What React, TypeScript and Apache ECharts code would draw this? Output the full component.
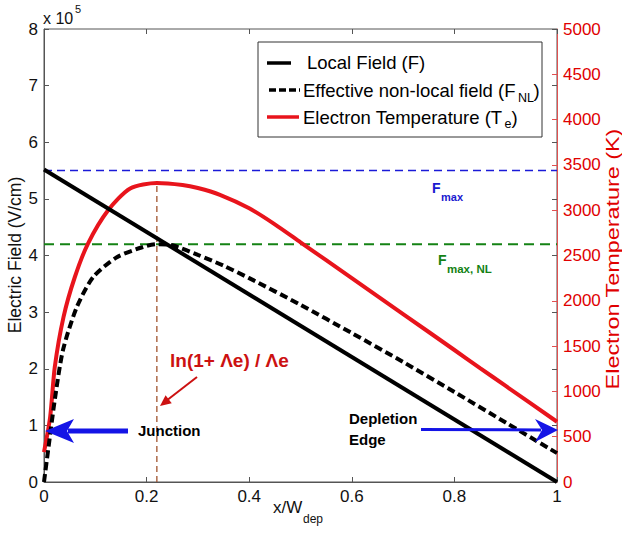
import React, { useEffect, useRef } from "react";
import * as echarts from "echarts";

// ---- data ----
const xTicks = [0, 0.2, 0.4, 0.6, 0.8, 1];
const localFieldX = [0, 1];
const localField = [5.52, 0]; // x 10^5 V/cm

const nonLocalX = [0, 0.008, 0.021, 0.037, 0.064, 0.096, 0.142, 0.193, 0.22, 0.25, 0.3, 0.35, 0.4, 0.5, 0.6, 0.7, 0.8, 0.9, 1.0];
const nonLocalField = [0, 0.56, 1.45, 2.33, 3.09, 3.62, 3.97, 4.15, 4.2, 4.18, 4.01, 3.82, 3.6, 3.13, 2.63, 2.12, 1.59, 1.05, 0.51];

const tempX = [0, 0.012, 0.021, 0.038, 0.06, 0.086, 0.125, 0.168, 0.22, 0.27, 0.3, 0.343, 0.4, 0.45, 0.5, 0.6, 0.7, 0.8, 0.85, 0.9, 1.0];
const electronTemp = [330, 718, 1268, 1820, 2260, 2635, 3000, 3240, 3300, 3278, 3245, 3170, 3021, 2844, 2646, 2250, 1854, 1457, 1258, 1060, 665];

const fMax = 5.5;
const fMaxNL = 4.2;
const junctionX = 0.22;
const peakTemp = 3300;

const FF = 'Arial, "Liberation Sans", Helvetica, sans-serif';

const zip = (xs: number[], ys: number[]) => xs.map((x, i) => [x, ys[i]]);

function txt(x: number, y: number, text: string, size: number, fill: string, extra: any = {}) {
  const { bold, align, rotation, scaleX, scaleY } = extra;
  return {
    type: "text",
    x,
    y,
    rotation: rotation || 0,
    scaleX: scaleX || 1,
    scaleY: scaleY || 1,
    z: 100,
    silent: true,
    style: {
      text,
      fill,
      font: `${bold ? "bold " : ""}${size}px ${FF}`,
      textAlign: align || "left",
      align: align || "left",
      textVerticalAlign: "middle",
      verticalAlign: "middle",
    },
  };
}

function line(x1: number, y1: number, x2: number, y2: number, stroke: string, lineWidth: number, lineDash?: number[]) {
  return {
    type: "line",
    z: 100,
    silent: true,
    shape: { x1, y1, x2, y2 },
    style: { stroke, lineWidth, lineDash: lineDash || null },
  };
}

function poly(points: number[][], fill: string) {
  return { type: "polygon", z: 100, silent: true, shape: { points }, style: { fill } };
}

function arrowHead(tx: number, ty: number, fx: number, fy: number, len: number, half: number) {
  const dx = tx - fx;
  const dy = ty - fy;
  const d = Math.sqrt(dx * dx + dy * dy);
  const ux = dx / d;
  const uy = dy / d;
  const bx = tx - ux * len;
  const by = ty - uy * len;
  return [
    [tx, ty],
    [bx - uy * half, by + ux * half],
    [bx + uy * half, by - ux * half],
  ];
}

export default function App() {
  const ref = useRef<HTMLDivElement>(null);

  useEffect(() => {
    if (!ref.current) return;
    const chart = echarts.init(ref.current, null, { renderer: "svg" });
    const blue = "#1414e6";
    const red = "#e8141c";
    const annRed = "#cc1111";
    const axisGray = "#555";

    const option: any = {
      animation: false,
      backgroundColor: "#fff",
      textStyle: { fontFamily: FF },
      grid: { left: 44, right: 65, top: 29, bottom: 57, show: true, borderColor: axisGray, borderWidth: 1 },
      xAxis: [
        {
          type: "value",
          min: 0,
          max: 1,
          interval: 0.2,
          axisLine: { show: true, onZero: false, lineStyle: { color: axisGray } },
          axisTick: { show: true, inside: true, length: 5, lineStyle: { color: axisGray } },
          splitLine: { show: false },
          axisLabel: {
            color: "#111",
            fontSize: 17,
            fontFamily: FF,
            margin: 6,
            formatter: (v: number) => {
              const t = xTicks.find((k) => Math.abs(k - v) < 1e-6);
              return t === undefined ? "" : String(t);
            },
          },
        },
        {
          type: "value",
          position: "top",
          min: 0,
          max: 1,
          interval: 0.2,
          axisLine: { show: false, onZero: false },
          axisTick: { show: true, inside: true, length: 5, lineStyle: { color: axisGray } },
          axisLabel: { show: false },
          splitLine: { show: false },
        },
      ],
      yAxis: [
        {
          type: "value",
          min: 0,
          max: 8,
          interval: 1,
          position: "left",
          axisLine: { show: true, onZero: false, lineStyle: { color: axisGray } },
          axisTick: { show: true, inside: true, length: 5, lineStyle: { color: axisGray } },
          axisLabel: { color: "#111", fontSize: 17, fontFamily: FF, margin: 6 },
          splitLine: { show: false },
        },
        {
          type: "value",
          min: 0,
          max: 5000,
          interval: 500,
          position: "right",
          axisLine: { show: true, onZero: false, lineStyle: { color: "#e05050" } },
          axisTick: { show: true, inside: true, length: 5, lineStyle: { color: "#e05050" } },
          axisLabel: {
            color: "#e00000",
            fontSize: 17,
            fontFamily: FF,
            margin: 6,
            formatter: (v: number) => String(v),
          },
          splitLine: { show: false },
        },
        {
          type: "value",
          min: 0,
          max: 8,
          interval: 1,
          position: "right",
          axisLine: { show: false, onZero: false },
          axisTick: { show: true, inside: true, length: 5, lineStyle: { color: axisGray } },
          axisLabel: { show: false },
          splitLine: { show: false },
        },
      ],
      series: [
        {
          name: "Fmax",
          type: "line",
          yAxisIndex: 0,
          symbol: "none",
          silent: true,
          data: [[0, fMax], [1, fMax]],
          lineStyle: { color: "#1a1ad8", width: 1.5, type: [8, 5] },
        },
        {
          name: "FmaxNL",
          type: "line",
          yAxisIndex: 0,
          symbol: "none",
          silent: true,
          data: [[0, fMaxNL], [1, fMaxNL]],
          lineStyle: { color: "#148214", width: 2, type: [10, 6] },
        },
        {
          name: "junction",
          type: "line",
          yAxisIndex: 1,
          symbol: "none",
          silent: true,
          data: [[junctionX, 0], [junctionX, peakTemp]],
          lineStyle: { color: "#a0522d", width: 1.3, type: [6, 4] },
        },
        {
          name: "Electron Temperature",
          type: "line",
          yAxisIndex: 1,
          symbol: "none",
          silent: true,
          smooth: 0.25,
          data: zip(tempX, electronTemp),
          lineStyle: { color: red, width: 4 },
        },
        {
          name: "Effective non-local field",
          type: "line",
          yAxisIndex: 0,
          symbol: "none",
          silent: true,
          smooth: 0.25,
          data: zip(nonLocalX, nonLocalField),
          lineStyle: { color: "#000", width: 4, type: [8, 4], cap: "butt" },
        },
        {
          name: "Local Field",
          type: "line",
          yAxisIndex: 0,
          symbol: "none",
          silent: true,
          data: zip(localFieldX, localField),
          lineStyle: { color: "#000", width: 4 },
        },
      ],
      graphic: [
        // multiplier
        txt(43, 18, "x 10", 16, "#111"),
        txt(75, 9, "5", 11, "#111"),
        // axis titles
        txt(14.5, 255, "Electric Field (V/cm)", 17.5, "#111", { align: "center", rotation: Math.PI / 2 }),
        txt(613, 259, "Electron Temperature (K)", 18, "#e00000", { align: "center", rotation: Math.PI / 2, scaleX: 1.3 }),
        txt(273, 507, "x/W", 17, "#111"),
        txt(303, 519, "dep", 12, "#111"),
        // legend
        {
          type: "rect",
          z: 99,
          silent: true,
          shape: { x: 258, y: 42, width: 284, height: 95 },
          style: { fill: "#fff", stroke: "#333", lineWidth: 1 },
        },
        line(267, 63, 291, 63, "#000", 3.5),
        line(269, 90, 300, 90, "#000", 3.5, [7, 3]),
        line(267, 117, 299, 117, red, 3.5),
        txt(307, 62, "Local Field (F)", 18.5, "#000"),
        txt(303, 90.5, "Effective non-local field (F", 18.5, "#000"),
        txt(518, 98, "NL", 12.5, "#000"),
        txt(533.5, 90.5, ")", 18.5, "#000"),
        txt(303, 117, "Electron Temperature (T", 18.5, "#000"),
        txt(504.5, 124, "e", 12.5, "#000"),
        txt(511.5, 117, ")", 18.5, "#000"),
        // Fmax labels
        txt(432, 188, "F", 14, "#1a1ad0", { bold: true }),
        txt(441, 197, "max", 11, "#1a1ad0", { bold: true }),
        txt(438, 260, "F", 14, "#148214", { bold: true }),
        txt(447, 268.5, "max, NL", 11.5, "#148214", { bold: true }),
        // ln annotation
        txt(170, 360, "ln(1+ Λe) / Λe", 19, annRed, { bold: true }),
        line(197, 377, 166, 401, annRed, 2),
        poly(arrowHead(160, 406, 197, 377, 11, 5), annRed),
        // junction
        txt(138, 430, "Junction", 15, "#000", { bold: true }),
        line(128, 431, 68, 431, blue, 5),
        poly([[45, 431], [74, 419], [67, 431], [74, 443]], blue),
        // depletion edge
        txt(349, 418, "Depletion", 15, "#000", { bold: true }),
        txt(349, 439, "Edge", 15, "#000", { bold: true }),
        line(421, 429.5, 541, 430, blue, 3),
        poly([[558, 430], [535, 419], [542, 430], [535, 442]], blue),
      ],
    };

    chart.setOption(option);
    return () => chart.dispose();
  }, []);

  return (
    <div
      ref={ref}
      style={{ position: "fixed", left: 0, top: 0, width: 622, height: 539, background: "#fff" }}
    />
  );
}
